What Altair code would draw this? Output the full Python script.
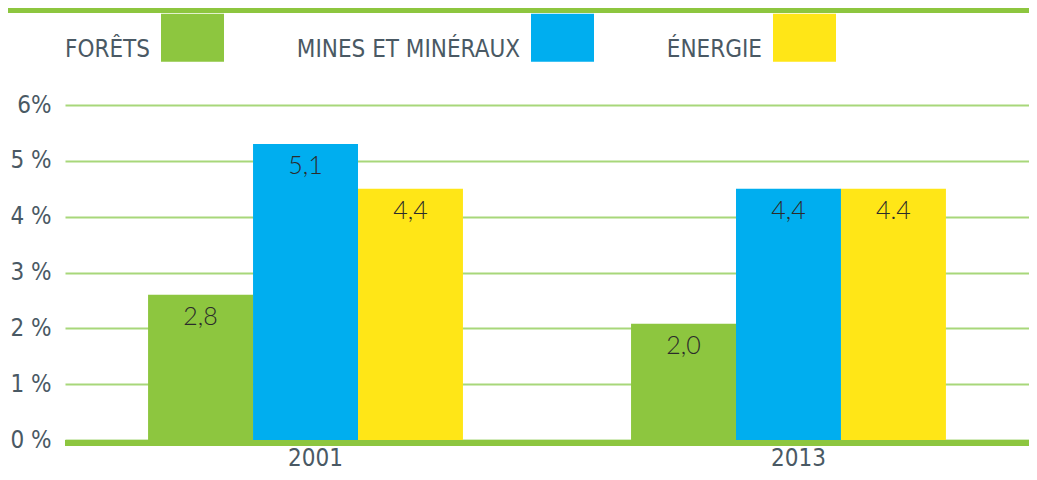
import altair as alt
import pandas as pd

years = ["2001", "2013"]
sectors = ["FORÊTS", "MINES ET MINÉRAUX", "ÉNERGIE"]
values_2001 = [2.6, 5.3, 4.5]
values_2013 = [2.08, 4.5, 4.5]
labels_2001 = ["2,8", "5,1", "4,4"]
labels_2013 = ["2,0", "4,4", "4.4"]
colors = ["#8DC63F", "#00AEEF", "#FFE617"]
y_ticks = [0, 1, 2, 3, 4, 5, 6]

rows = []
for yr, vals, labs in [("2001", values_2001, labels_2001), ("2013", values_2013, labels_2013)]:
    for s, v, l in zip(sectors, vals, labs):
        rows.append({"year": yr, "sector": s, "value": v, "label": l})
df = pd.DataFrame(rows)

W, H = 964, 335
GRAY = "#4A5964"
FONT = "DejaVu Sans Condensed, Roboto, sans-serif"

x_enc = alt.X(
    "year:N", sort=years,
    scale=alt.Scale(paddingInner=0.348, paddingOuter=0.172, align=0.5),
    axis=alt.Axis(title=None, labelAngle=0, domain=False, ticks=False,
                  labelFontSize=24, labelFont=FONT, labelColor=GRAY,
                  labelPadding=6, labelOffset=10),
)
y_enc = alt.Y(
    "value:Q",
    scale=alt.Scale(domain=[0, 6], nice=False),
    axis=alt.Axis(values=y_ticks, title=None, domain=False, ticks=False,
                  grid=True, gridColor="#A8D77A", gridWidth=2,
                  labelExpr="datum.value == 6 ? '6%' : datum.value + ' %'",
                  labelFontSize=24, labelFont=FONT, labelColor=GRAY,
                  labelPadding=14),
)
xoff = alt.XOffset("sector:N", sort=sectors, scale=alt.Scale(paddingInner=0, paddingOuter=0))

base = alt.Chart(df)

bars = base.mark_bar().encode(
    x=x_enc, y=y_enc, xOffset=xoff,
    color=alt.Color(
        "sector:N", sort=sectors,
        scale=alt.Scale(domain=sectors, range=colors),
        legend=alt.Legend(
            title=None, orient="none", legendX=96, legendY=-99,
            direction="horizontal",
            symbolType="M-1,-0.762H1V0.762H-1Z", symbolSize=3969,
            symbolStrokeWidth=0, symbolOpacity=1,
            labelAlign="right", labelOffset={"expr": "-74"}, labelBaseline="top",
            labelFontSize=24, labelFont=FONT, labelColor=GRAY, labelLimit=500,
            columnPadding=72,
        ),
    ),
)

texts = base.mark_text(dy=30, baseline="alphabetic", fontSize=25, font="Lato",
                       fontWeight=300, color="#2B2B2B").encode(
    x=alt.X("year:N", sort=years), y="value:Q", xOffset=xoff, text="label:N"
)

baseline = alt.Chart(df).mark_rule(color="#8DC63F", strokeWidth=6, yOffset=3).encode(
    y=alt.datum(0)
)

topbar = alt.Chart(df).mark_rule(color="#8DC63F", strokeWidth=5).encode(
    x=alt.value(-57), x2=alt.value(W), y=alt.value(-94.5)
)

chart = alt.layer(bars, texts, baseline, topbar).properties(
    width=W, height=H,
    padding={"left": 57, "top": 97, "right": 0, "bottom": 32},
    autosize=alt.AutoSizeParams(type="none"),
).configure_view(stroke=None)

chart.save("out.html", embed_options={"renderer": "svg", "actions": False})
